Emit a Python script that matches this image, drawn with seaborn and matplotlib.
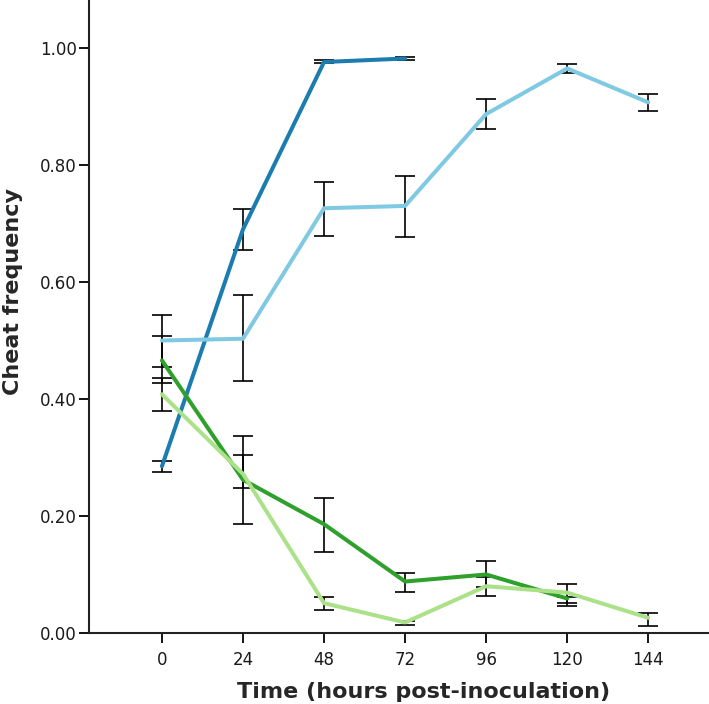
import numpy as np
import pandas as pd
import matplotlib
matplotlib.use("Agg")
import matplotlib.pyplot as plt
import seaborn as sns

# time points (hours post-inoculation)
times = [0, 24, 48, 72, 96, 120, 144]

# series: mean, lower and upper error values
dark_blue_mean = [0.285, 0.690, 0.976, 0.982]
dark_blue_low = [0.275, 0.654, 0.974, 0.979]
dark_blue_high = [0.294, 0.725, 0.979, 0.985]

light_blue_mean = [0.500, 0.503, 0.726, 0.730, 0.887, 0.965, 0.907]
light_blue_low = [0.455, 0.430, 0.679, 0.677, 0.861, 0.958, 0.893]
light_blue_high = [0.544, 0.578, 0.771, 0.782, 0.912, 0.973, 0.922]

dark_green_mean = [0.466, 0.262, 0.186, 0.088, 0.100, 0.059]
dark_green_low = [0.427, 0.186, 0.139, 0.070, 0.079, 0.052]
dark_green_high = [0.507, 0.337, 0.230, 0.103, 0.123, 0.062]

light_green_mean = [0.408, 0.272, 0.051, 0.018, 0.080, 0.069, 0.026]
light_green_low = [0.379, 0.247, 0.039, 0.014, 0.063, 0.046, 0.012]
light_green_high = [0.436, 0.305, 0.061, 0.021, 0.096, 0.084, 0.035]

series = {
    "A": (dark_blue_mean, dark_blue_low, dark_blue_high, "#1c7cb0"),
    "B": (light_blue_mean, light_blue_low, light_blue_high, "#80c9e2"),
    "C": (dark_green_mean, dark_green_low, dark_green_high, "#30a02c"),
    "D": (light_green_mean, light_green_low, light_green_high, "#abe188"),
}

sns.set_style("ticks")
plt.rcParams["font.family"] = ["DejaVu Sans"]

fig = plt.figure(figsize=(7.09, 7.04), dpi=100)
ax = fig.add_axes([89 / 709, 71 / 704, 620 / 709, 633 / 704])

# long table for seaborn
rows = []
for name, (mean, low, high, color) in series.items():
    for t, m in zip(times, mean):
        rows.append({"time": t, "freq": m, "strain": name})
df = pd.DataFrame(rows)

palette = {k: v[3] for k, v in series.items()}
sns.lineplot(data=df, x="time", y="freq", hue="strain", palette=palette,
             linewidth=2.9, legend=False, ax=ax, zorder=3)

# error bars (black, with caps) behind the lines
for name, (mean, low, high, color) in series.items():
    t = np.array(times[:len(mean)])
    m = np.array(mean)
    yerr = [m - np.array(low), np.array(high) - m]
    ax.errorbar(t, m, yerr=yerr, fmt="none", ecolor="black", elinewidth=1.2,
                capsize=7.5, capthick=1.2, zorder=2)

ax.set_xlim(-21.6, 162)
ax.set_ylim(0, 1.082)
ax.set_xticks(times)
ax.set_yticks([0, 0.2, 0.4, 0.6, 0.8, 1.0])
ax.set_yticklabels([f"{v:.2f}" for v in [0, 0.2, 0.4, 0.6, 0.8, 1.0]])
ax.tick_params(axis="both", length=7, width=1.3, labelsize=12, color="black",
               labelcolor="#1a1a1a")
ax.tick_params(axis="x", pad=6)
ax.tick_params(axis="y", pad=2)

ax.set_xlabel("Time (hours post-inoculation)", fontsize=16, fontweight="bold")
ax.set_ylabel("Cheat frequency", fontsize=16, fontweight="bold")
ax.xaxis.set_label_coords(0.54, -0.078)
ax.yaxis.set_label_coords(-0.106, 0.54)

sns.despine(ax=ax)
for s in ["left", "bottom"]:
    ax.spines[s].set_linewidth(1.5)
    ax.spines[s].set_color("#222222")

fig.savefig("out.png", dpi=100)
